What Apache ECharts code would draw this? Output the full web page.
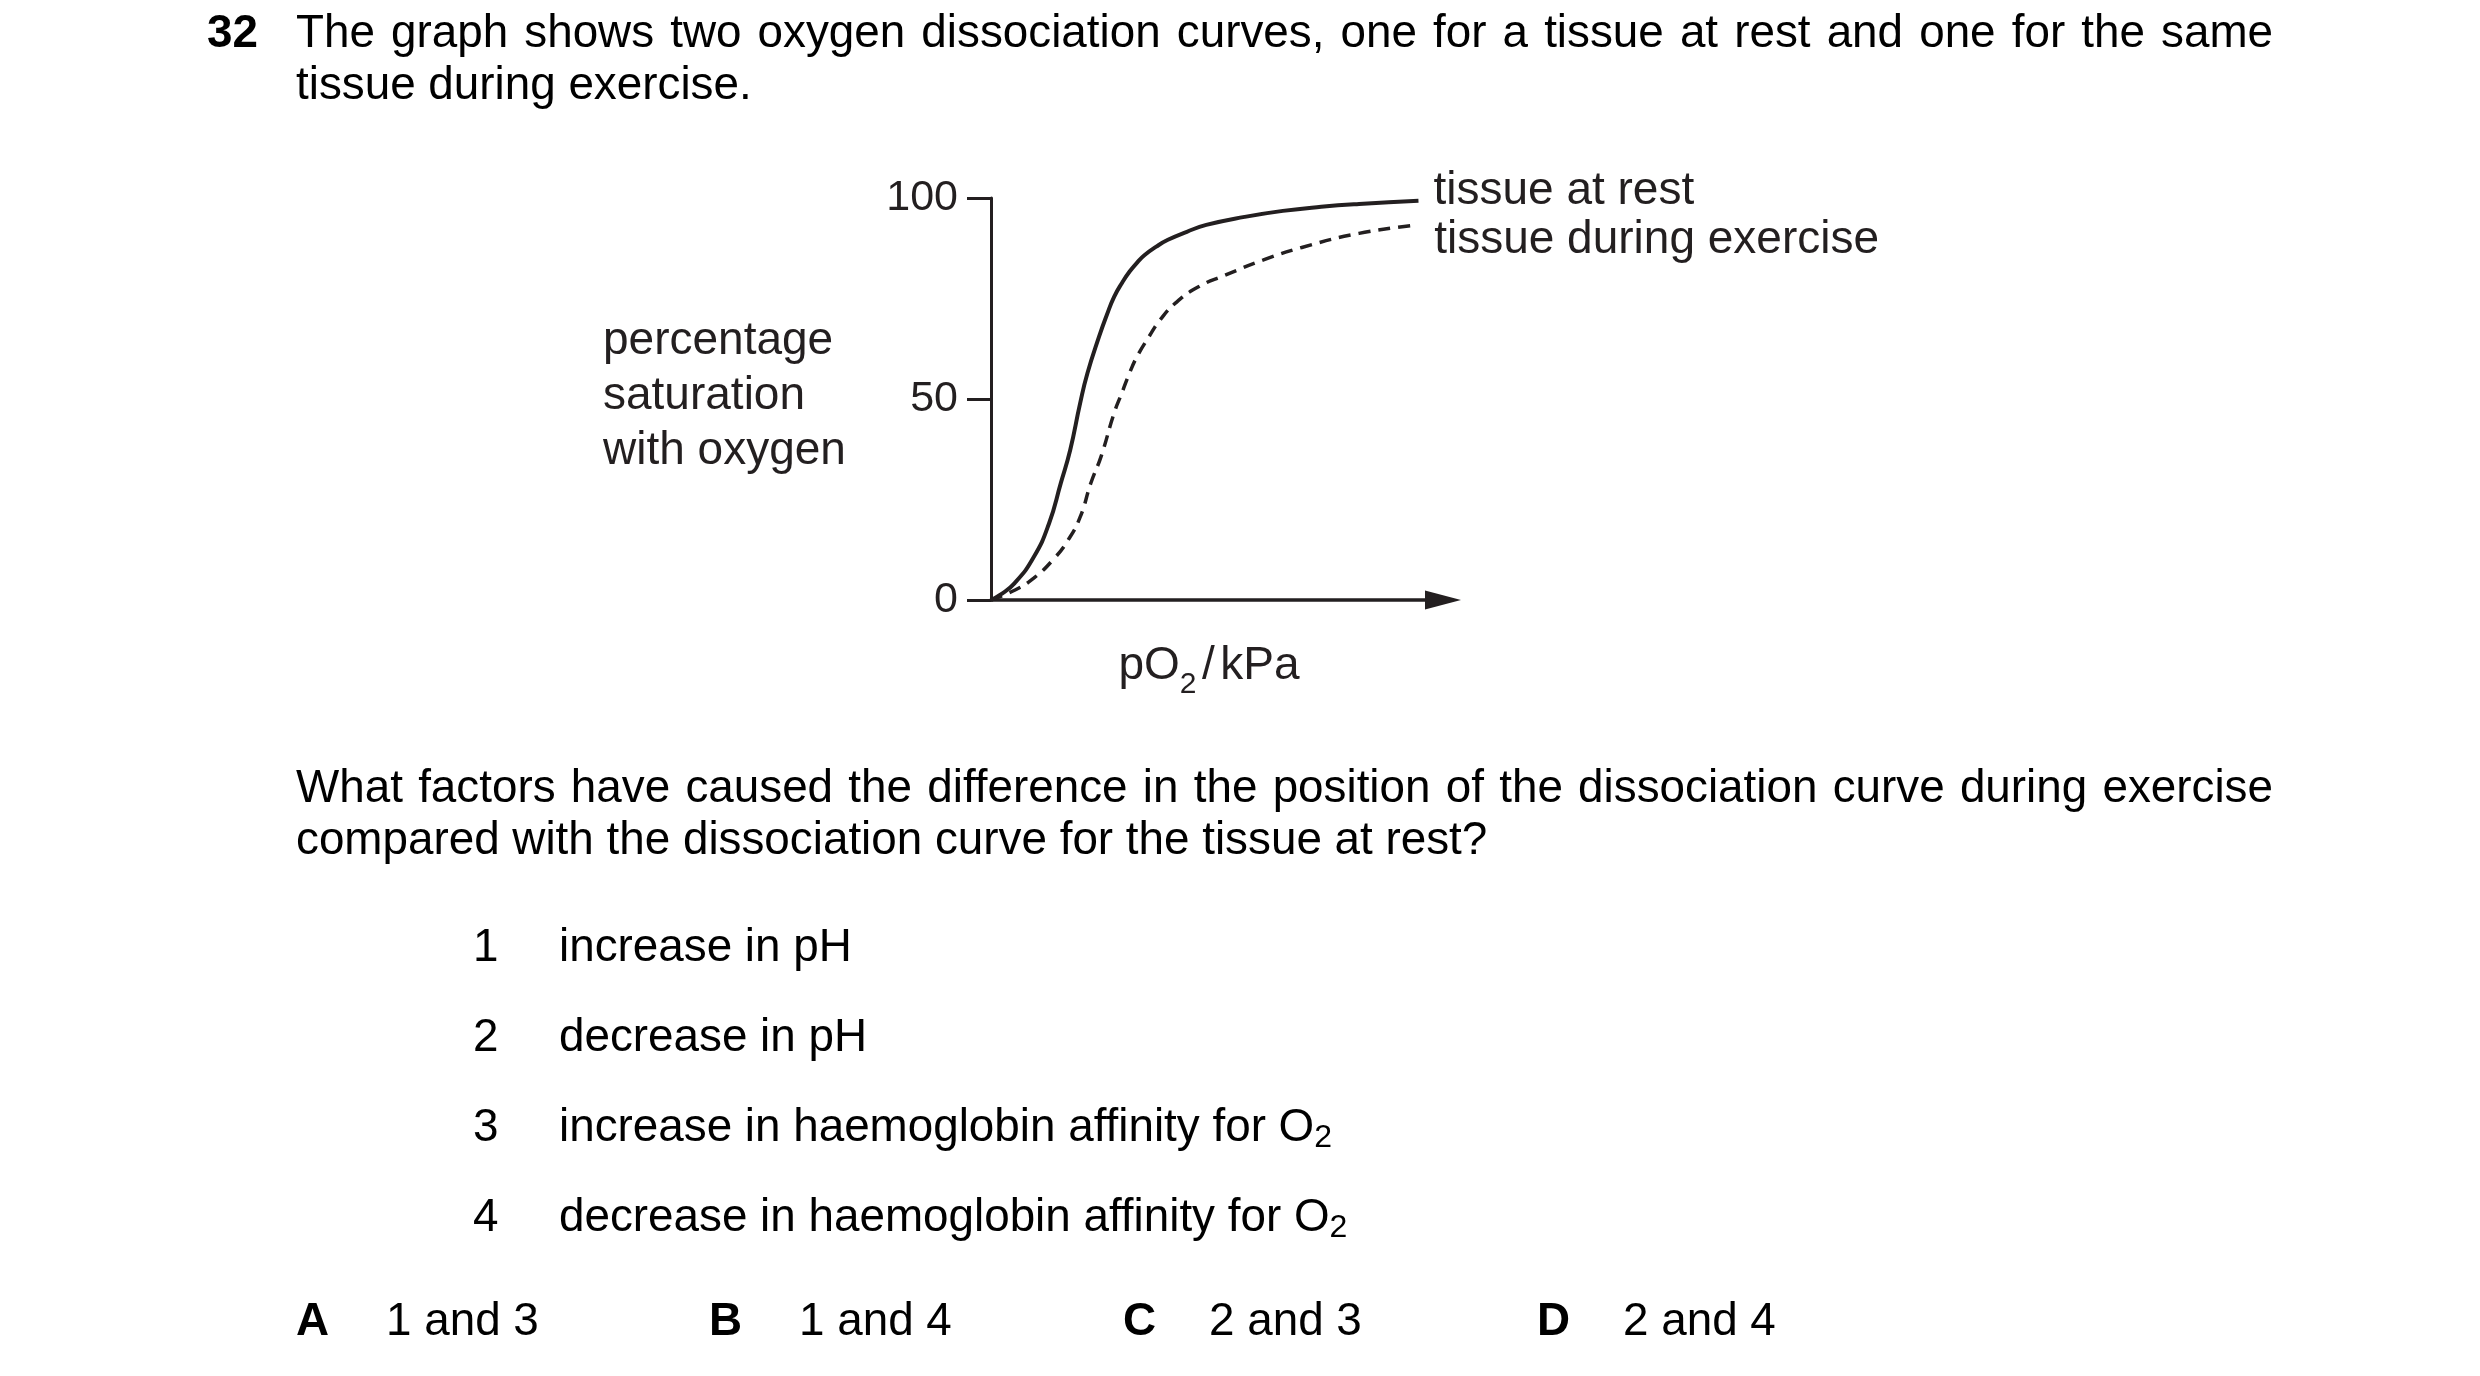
<!DOCTYPE html>
<html lang="en">
<head>
<meta charset="UTF-8">
<title>Oxygen dissociation curves</title>
<script src="https://cdn.jsdelivr.net/npm/echarts@6/dist/echarts.min.js"></script>
<style>
  body { margin: 0; background: #fff; font-family: "Liberation Sans", Arial, sans-serif; color: #000; }
  #chart { position: absolute; left: 0; top: 0; width: 2480px; height: 1376px; }
  .t { position: absolute; font-size: 45.8px; line-height: 46px; white-space: nowrap; }
  .just { text-align: justify; text-align-last: justify; white-space: normal; }
  .sub { font-size: 32px; vertical-align: -6px; }
</style>
</head>
<body>
<div id="chart"></div>

<div class="t" style="left:207px;top:9px;"><b>32</b></div>
<div class="t just" style="left:296px;top:9px;width:1977px;">The graph shows two oxygen dissociation curves, one for a tissue at rest and one for the same</div>
<div class="t" style="left:296px;top:61px;">tissue during exercise.</div>

<div class="t just" style="left:296px;top:764px;width:1977px;">What factors have caused the difference in the position of the dissociation curve during exercise</div>
<div class="t" style="left:296px;top:816px;">compared with the dissociation curve for the tissue at rest?</div>

<div class="t" style="left:473px;top:923px;">1</div>
<div class="t" style="left:559px;top:923px;">increase in pH</div>
<div class="t" style="left:473px;top:1013px;">2</div>
<div class="t" style="left:559px;top:1013px;">decrease in pH</div>
<div class="t" style="left:473px;top:1103px;">3</div>
<div class="t" style="left:559px;top:1103px;">increase in haemoglobin affinity for O<span class="sub">2</span></div>
<div class="t" style="left:473px;top:1193px;">4</div>
<div class="t" style="left:559px;top:1193px;">decrease in haemoglobin affinity for O<span class="sub">2</span></div>

<div class="t" style="left:296px;top:1297px;"><b>A</b></div>
<div class="t" style="left:386px;top:1297px;">1 and 3</div>
<div class="t" style="left:709px;top:1297px;"><b>B</b></div>
<div class="t" style="left:799px;top:1297px;">1 and 4</div>
<div class="t" style="left:1123px;top:1297px;"><b>C</b></div>
<div class="t" style="left:1209px;top:1297px;">2 and 3</div>
<div class="t" style="left:1537px;top:1297px;"><b>D</b></div>
<div class="t" style="left:1623px;top:1297px;">2 and 4</div>

<script>
    // curves (pO2 in arbitrary units, saturation in %)
    const restPO2 = [0, 0.20, 0.55, 1.00, 1.35, 1.62, 1.84, 2.07, 2.24, 2.51, 2.69, 2.86, 3.05, 3.22, 3.40, 3.57, 3.84, 4.11, 4.55, 5.00, 5.89, 6.78, 7.67, 8.55, 9.93];
    const restSat = [0, 1.2, 4.2, 10.8, 19.1, 29.0, 37.3, 48.9, 56.4, 65.5, 70.9, 75.4, 79.0, 81.7, 84.0, 85.8, 87.9, 89.6, 91.6, 93.3, 95.3, 96.8, 97.8, 98.5, 99.3];
    const exercisePO2 = [0, 0.56, 1.00, 1.44, 1.79, 2.07, 2.32, 2.56, 2.86, 3.04, 3.22, 3.39, 3.67, 3.93, 4.29, 4.82, 5.44, 6.33, 7.22, 8.55, 9.90];
    const exerciseSat = [0, 2.5, 5.5, 10.0, 14.9, 20.6, 29.1, 35.8, 46.5, 51.5, 56.5, 60.5, 65.5, 69.7, 73.9, 77.9, 80.8, 84.6, 87.7, 91.2, 93.3];
    const seriesNames = ['tissue at rest', 'tissue during exercise'];
    const satTicks = [0, 50, 100];
    const pO2Max = 10.5;

    const FONT = '"Liberation Sans", Arial, sans-serif';
    const INK = '#231f20';

    function zip(xs, ys) {
        return xs.map((x, i) => [x, ys[i]]);
    }

    const chart = echarts.init(document.getElementById('chart'));
    chart.setOption({
        animation: false,
        backgroundColor: '#fff',
        grid: { left: 991, top: 198, width: 452, height: 402 },
        xAxis: {
            type: 'value', min: 0, max: pO2Max,
            axisLine: { show: true, symbol: ['none', 'triangle'], symbolSize: [19, 36], lineStyle: { color: INK, width: 3.5 } },
            axisTick: { show: false },
            axisLabel: { show: false },
            splitLine: { show: false }
        },
        yAxis: {
            type: 'value',
            min: satTicks[0], max: satTicks[satTicks.length - 1], interval: satTicks[1] - satTicks[0],
            axisLine: { show: true, lineStyle: { color: INK, width: 3 } },
            axisTick: { show: true, length: 24, lineStyle: { color: INK, width: 3 } },
            axisLabel: { margin: 33, fontSize: 43, color: INK, fontFamily: FONT },
            splitLine: { show: false }
        },
        series: [{
            type: 'line',
            name: seriesNames[0],
            data: zip(restPO2, restSat),
            smooth: 0.5,
            symbol: 'none',
            lineStyle: { color: INK, width: 4 },
            endLabel: { show: true, formatter: '{a}', offset: [7, -10], fontSize: 46, color: INK, fontFamily: FONT }
        }, {
            type: 'line',
            name: seriesNames[1],
            data: zip(exercisePO2, exerciseSat),
            smooth: 0.5,
            symbol: 'none',
            lineStyle: { color: INK, width: 3.5, type: [12, 8] },
            endLabel: { show: true, formatter: '{a}', offset: [9, 15], fontSize: 46, color: INK, fontFamily: FONT }
        }],
        graphic: [{
            type: 'text',
            left: 603,
            top: 314,
            style: {
                text: 'percentage\nsaturation\nwith oxygen',
                fontSize: 46, lineHeight: 55, fill: INK, fontFamily: FONT
            }
        }, {
            type: 'text',
            x: 1209,
            y: 666,
            style: {
                text: 'pO{s|2}{g| }/{g| }kPa',
                fontSize: 46, fill: INK, fontFamily: FONT,
                align: 'center', verticalAlign: 'middle',
                rich: {
                    s: { fontSize: 30, fill: INK, fontFamily: FONT, padding: [38, 0, 0, 0] },
                    g: { fontSize: 20, fill: INK, fontFamily: FONT }
                }
            }
        }]
    });
</script>
</body>
</html>
